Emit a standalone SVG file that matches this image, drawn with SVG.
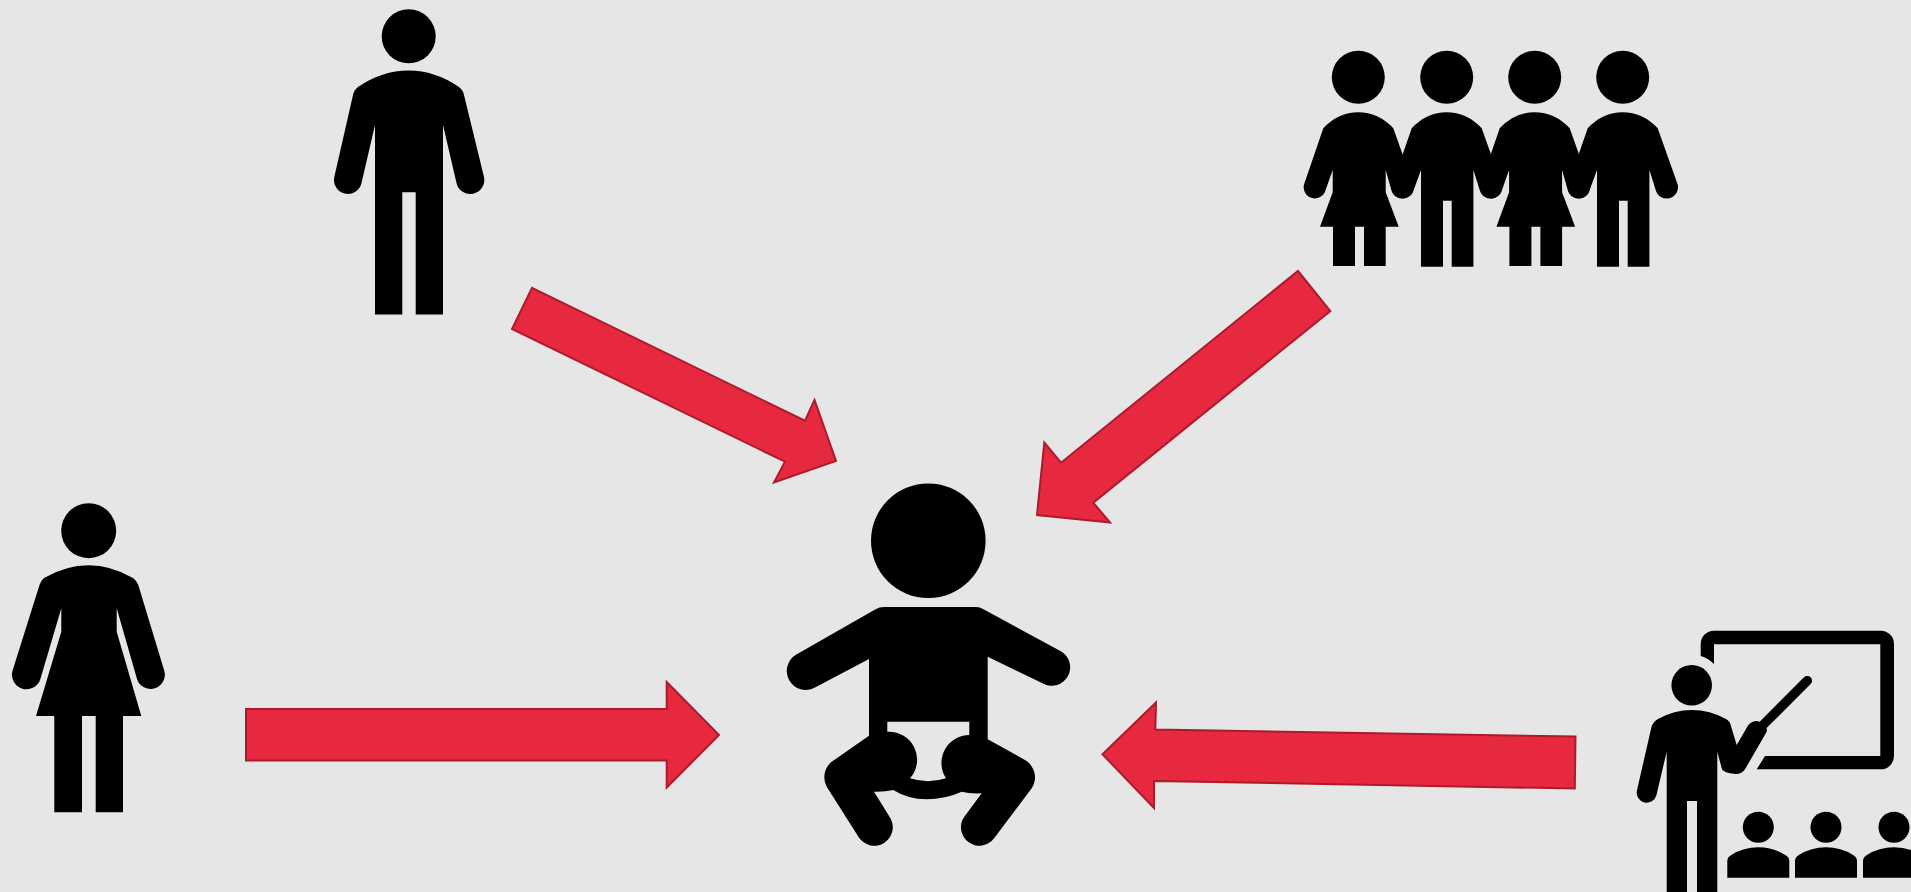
<svg xmlns="http://www.w3.org/2000/svg" width="1911" height="892" viewBox="0 0 1911 892">
<style>
.arrow{fill:#e6293e;stroke:#ad1a2d;stroke-width:2;stroke-linejoin:miter}
.fig{fill:#000}
</style>
<defs>
<g id="small-woman">
<circle cx="0" cy="77.3" r="26.5"/>
<path d="M-35 128.3Q-20 112.3 0 112.3Q20 112.3 35 128.3L55 184.5A1 1 0 0 1 33 190L27.4 170V192.3L40.4 226.7H27.4V266H5.7V226.7H-3.3V266H-25.3V226.7H-38.3L-25.6 192.3V170L-32.7 190A1 1 0 0 1 -54.3 184.5Z"/>
</g>
<g id="small-man">
<circle cx="0" cy="77.3" r="26.5"/>
<path d="M-35 128.3Q-20 112.3 0 112.3Q20 112.3 35 128.3L55 184.5A1 1 0 0 1 33 190L26.7 170V266.7H5V200.7H-3.7V266.7H-25.7V170L-33 190A1 1 0 0 1 -54.5 184.5Z"/>
</g>
<g id="student">
<circle cx="0" cy="827.3" r="15.5"/>
<path d="M-31 877.7V861Q-31 857 -27 855Q-15 847.3 0 847.3Q15 847.3 27 855Q31 857 31 861V877.7Z"/>
</g>
</defs>
<rect width="1911" height="892" fill="#e6e6e6"/>
<g id="connectors">
<polygon class="arrow" points="532,287.8 805,420.7 814.5,400 836,461 774,482.5 785,461.7 512,329"/>
<polygon class="arrow" points="1298,271 1330.3,311 1093.3,502.7 1110,522.5 1037,515 1044.3,442.5 1061,462.7"/>
<polygon class="arrow" points="246,709 666.7,709 666.7,682 719,735 666.7,787.5 666.7,760.5 246,760.5"/>
<polygon class="arrow" points="1102.5,754.3 1156,702.5 1155.3,729.5 1575.5,736.5 1574.8,788.5 1154,781 1154,808"/>
</g>
<g id="man" class="fig">
<circle cx="408.7" cy="36.3" r="27"/>
<path d="M353 95Q354 90 358 87Q382 70.5 408.7 70.5Q435 70.5 459 87Q463 90 464 95L484 177A1 1 0 0 1 456.5 183L443 125V314.5H415.7V192.3H402.3V314.5H375V125L361.5 183A1 1 0 0 1 334.3 177Z"/>
</g>
<g id="woman" class="fig">
<circle cx="88.7" cy="530.7" r="27.5"/>
<path d="M39.5 585Q40.5 581 44 578Q66 565.3 88.7 565.3Q111 565.3 133 578Q137 581 138.3 585L164.2 670.5A1 1 0 0 1 137 679L116.7 608.3V631.7L141.3 716H123V812.3H95.7V716H82V812.3H54.3V716H36L61.3 631.7V608.3L40.4 679A1 1 0 0 1 12.6 670.5Z"/>
</g>
<g id="group" class="fig">
<use href="#small-woman" x="1358.3" y="0"/>
<use href="#small-man" x="1446.7" y="0"/>
<use href="#small-woman" x="1534.7" y="0"/>
<use href="#small-man" x="1622.7" y="0"/>
</g>
<g id="baby" class="fig">
<circle cx="928.3" cy="540.7" r="57.3"/>
<path fill-rule="evenodd" d="M876 609Q879 607 884 607H976Q980 607 983 609L1060.4 651A1 1 0 0 1 1043 683.6L987.7 656.7V739.3L1025 760A20 20 0 0 1 1031.7 788.3L994.1 838.2A1 1 0 0 1 964.5 816.4L981.7 793.3Q970 794 961.7 791.7Q945 799.3 926.7 799.3Q908 799.3 893.3 790Q885 792 874 791.7L889.7 817.1A1 1 0 0 1 858.9 837.5L826.7 786.7A20 20 0 0 1 831.7 761.7L869 735.7V659L815 687.5A1 1 0 0 1 796.4 654.5ZM887.3 721.7V731.7A28 28 0 0 1 910 778.3Q928 784 946 778.3A28 28 0 0 1 969.3 735V721.7Z"/>
</g>
<g id="teacher" class="fig">
<path d="M1700.7 656V644A13.3 13.3 0 0 1 1714 630.7H1880.7A13.3 13.3 0 0 1 1894 644V756A13.3 13.3 0 0 1 1880.7 769.3H1756.7L1765 756H1880.3V644.3H1714V664Q1708 658 1700.7 656Z"/>
<circle cx="1691.7" cy="685.3" r="20.3"/>
<line x1="1764" y1="724" x2="1807.3" y2="680.7" stroke="#000" stroke-width="9.5" stroke-linecap="round"/>
<path d="M1651.7 726Q1654 721 1658 719Q1674 710 1691.7 710Q1710 710 1726 719Q1730 721 1731 726L1736.7 745L1748.3 725Q1752 721 1757 721Q1768 723 1766.7 731.7L1745 769.3Q1742 774 1736 774Q1722 773 1721.7 768.3L1717.3 751.7V892H1697V801H1687V892H1666.7V751.7L1656.4 795.2A1 1 0 0 1 1637 790.2Z"/>
<use href="#student" x="1758.3" y="0"/>
<use href="#student" x="1826" y="0"/>
<use href="#student" x="1894" y="0"/>
</g>
</svg>
